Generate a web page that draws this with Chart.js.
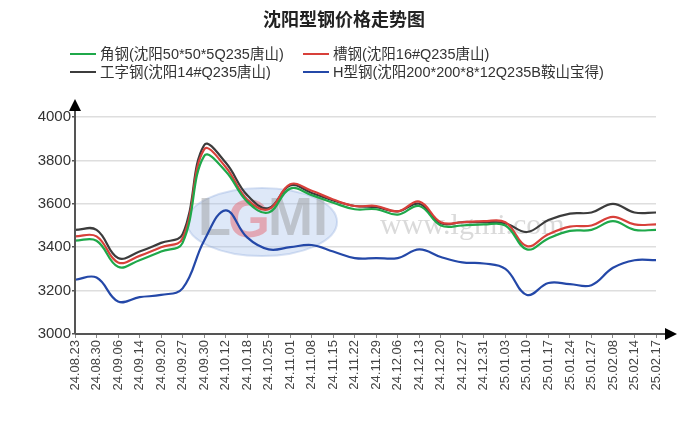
<!DOCTYPE html>
<html><head><meta charset="utf-8">
<script src="https://cdn.jsdelivr.net/npm/chart.js@4.4.1/dist/chart.umd.min.js"></script>
<style>
html,body{margin:0;padding:0;background:#fff;}
#wrap{position:relative;width:688px;height:438px;font-family:"Liberation Sans","Noto Sans CJK SC",Arial,sans-serif;}
#title{position:absolute;left:0;top:5px;width:688px;text-align:center;font-size:18px;font-weight:bold;color:#222;font-family:"Noto Sans CJK SC",sans-serif;line-height:26px}
.lg{position:absolute;font-size:14.5px;color:#333;line-height:18px;white-space:nowrap}
.lg i{display:inline-block;width:26px;height:2px;vertical-align:middle;margin-right:4px;position:relative;top:-1px}
canvas{position:absolute;left:0;top:0}
</style></head>
<body>
<div id="wrap">
<canvas id="c" width="688" height="438"></canvas>
<div id="title">沈阳型钢价格走势图</div>
<div id="legend"></div>
</div>
<script>
const labels = ["24.08.23","24.08.30","24.09.06","24.09.14","24.09.20","24.09.27","24.09.30","24.10.12","24.10.18","24.10.25","24.11.01","24.11.08","24.11.15","24.11.22","24.11.29","24.12.06","24.12.13","24.12.20","24.12.27","24.12.31","25.01.03","25.01.10","25.01.17","25.01.24","25.01.27","25.02.08","25.02.14","25.02.17"];
const seriesNames = ["角钢(沈阳50*50*5Q235唐山)","槽钢(沈阳16#Q235唐山)","工字钢(沈阳14#Q235唐山)","H型钢(沈阳200*200*8*12Q235B鞍山宝得)"];
const angleSteel   = [3430,3430,3310,3340,3380,3420,3820,3750,3610,3560,3670,3640,3605,3575,3575,3550,3590,3500,3500,3505,3500,3390,3440,3475,3480,3520,3480,3480];
const channelSteel = [3450,3450,3330,3360,3400,3440,3850,3770,3620,3575,3690,3660,3620,3590,3590,3565,3610,3515,3515,3520,3515,3405,3460,3495,3500,3540,3505,3505];
const iBeam        = [3480,3480,3350,3380,3420,3460,3870,3790,3640,3580,3685,3650,3615,3590,3585,3565,3600,3510,3515,3515,3510,3470,3525,3555,3560,3600,3560,3560];
const hBeam        = [3250,3260,3150,3170,3180,3210,3430,3570,3445,3390,3400,3410,3380,3350,3350,3350,3390,3355,3330,3325,3300,3180,3235,3230,3225,3305,3340,3340];
const colors = ["#1fa84a","#d8403a","#3c3c3c","#2448a8"];
const yMin = 3000, yMax = 4000, yStep = 200;

// HTML legend
const legendPos = [[70,45],[303,45],[70,63],[303,63]];
const lg = document.getElementById('legend');
seriesNames.forEach((n,i)=>{
  const d=document.createElement('div');d.className='lg';
  d.style.left=legendPos[i][0]+'px';d.style.top=legendPos[i][1]+'px';
  d.innerHTML='<i style="background:'+colors[i]+'"></i>'+n;
  lg.appendChild(d);
});

const watermark = {
  id:'watermark',
  beforeDatasetsDraw(chart){
    const ctx=chart.ctx;ctx.save();
    ctx.fillStyle='rgba(160,190,235,0.35)';
    ctx.strokeStyle='rgba(140,170,220,0.35)';ctx.lineWidth=2;
    ctx.beginPath();ctx.ellipse(262,222,75,34,0,0,Math.PI*2);ctx.fill();ctx.stroke();
    ctx.font='bold 54px "Liberation Sans",Arial';
    ctx.textBaseline='middle';ctx.textAlign='left';
    ctx.fillStyle='rgba(150,150,150,0.45)';ctx.fillText('L',198,220);
    ctx.fillStyle='rgba(230,90,100,0.45)';ctx.fillText('G',228,222);
    ctx.fillStyle='rgba(150,150,150,0.45)';ctx.fillText('MI',268,220);
    ctx.font='30px "Liberation Serif","DejaVu Serif",serif';
    ctx.fillStyle='rgba(150,150,150,0.35)';
    ctx.fillText('www.lgmi.com',380,226);
    ctx.restore();
  }
};
const axes = {
  id:'axes',
  afterDraw(chart){
    const ctx=chart.ctx, a=chart.chartArea;ctx.save();
    ctx.strokeStyle='#555';ctx.lineWidth=2;
    ctx.beginPath();ctx.moveTo(a.left,a.bottom);ctx.lineTo(668,a.bottom);ctx.stroke();
    ctx.beginPath();ctx.moveTo(a.left,a.bottom);ctx.lineTo(a.left,108);ctx.stroke();
    ctx.fillStyle='#000';
    ctx.beginPath();ctx.moveTo(677,a.bottom);ctx.lineTo(665,a.bottom-6);ctx.lineTo(665,a.bottom+6);ctx.closePath();ctx.fill();
    ctx.beginPath();ctx.moveTo(a.left,99);ctx.lineTo(a.left-6,111);ctx.lineTo(a.left+6,111);ctx.closePath();ctx.fill();
    ctx.restore();
  }
};

const mk=(label,data,c)=>({label,data,borderColor:c,backgroundColor:c,borderWidth:2.2,pointRadius:0,tension:0.4,fill:false});
new Chart(document.getElementById('c'),{
  type:'line',
  data:{labels,datasets:[mk(seriesNames[3],hBeam,colors[3]),mk(seriesNames[0],angleSteel,colors[0]),mk(seriesNames[1],channelSteel,colors[1]),mk(seriesNames[2],iBeam,colors[2])]},
  options:{
    responsive:false,animation:false,
    layout:{padding:{top:117,right:32,left:0,bottom:0}},
    plugins:{legend:{display:false},tooltip:{enabled:false},title:{display:false}},
    scales:{
      x:{offset:false,border:{display:false},
        grid:{drawOnChartArea:false,drawTicks:true,tickLength:4,color:'#888'},
        ticks:{autoSkip:false,maxRotation:90,minRotation:90,padding:2,color:'#444',font:{size:13,family:'"Liberation Sans",Arial'}},
        afterFit(s){s.height=104;}
      },
      y:{min:yMin,max:yMax,border:{display:false},
        grid:{color:'#dedede',lineWidth:1.5,drawTicks:true,tickLength:3,tickColor:'#555'},
        ticks:{stepSize:yStep,padding:1,color:'#333',font:{size:15,family:'"Liberation Sans",Arial'},callback:(v)=>String(v)},
        afterFit(s){s.width=75;}
      }
    }
  },
  plugins:[watermark,axes]
});
</script>
</body></html>
